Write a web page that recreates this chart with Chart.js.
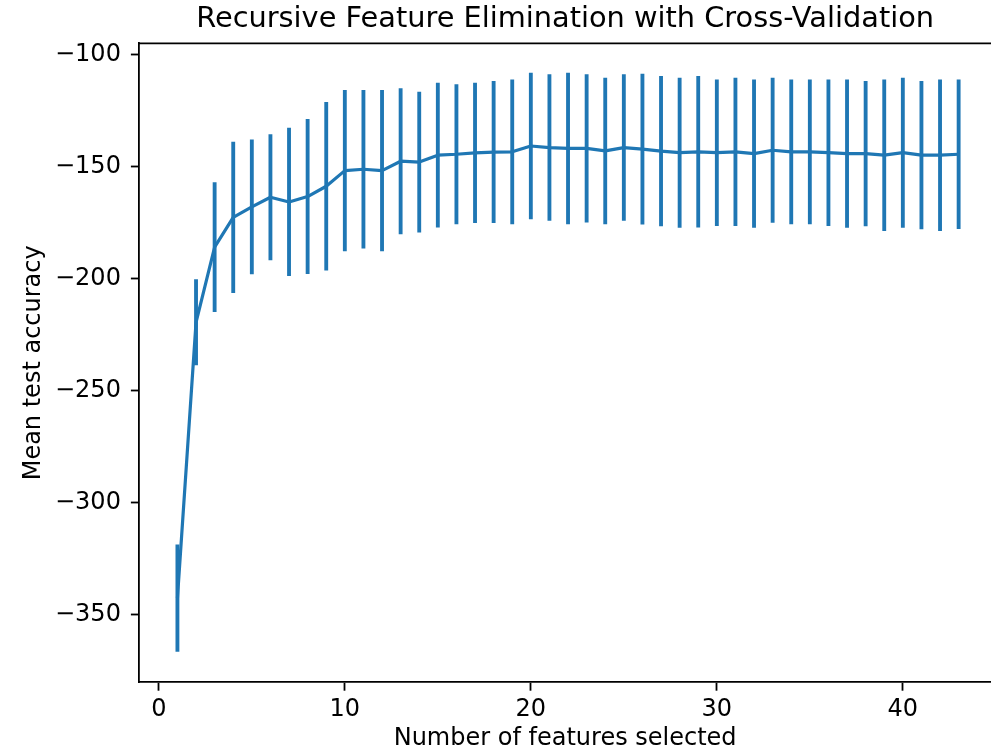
<!DOCTYPE html>
<html lang="en">
<head>
	<meta charset="UTF-8">
	<title>Recursive Feature Elimination with Cross-Validation</title>
	<style>
		body { margin: 0; background: #fff; }
		#wrap { width: 991px; height: 753px; }
	</style>
</head>
<body>
	<div id="wrap"><canvas id="chartRfe"></canvas></div>

	<script src="https://cdn.jsdelivr.net/npm/chart.js@4/dist/chart.umd.min.js"></script>
	<script>
		// number of features selected
		const nFeatures = [1, 2, 3, 4, 5, 6, 7, 8, 9, 10, 11, 12, 13, 14, 15, 16, 17, 18, 19, 20, 21, 22,
			23, 24, 25, 26, 27, 28, 29, 30, 31, 32, 33, 34, 35, 36, 37, 38, 39, 40, 41, 42, 43];

		// mean test score per feature count
		const meanScore = [-342.8, -219.5, -185.9, -172.6, -167.9, -163.6, -165.7, -163.3, -158.7, -151.7,
			-151.1, -151.7, -147.5, -147.9, -144.8, -144.4, -143.8, -143.4, -143.3, -140.7,
			-141.4, -141.8, -141.8, -142.9, -141.4, -142.1, -143.0, -143.7, -143.3, -143.7,
			-143.3, -144.1, -142.6, -143.3, -143.3, -143.7, -144.1, -144.1, -144.8, -143.7,
			-144.8, -144.8, -144.4];

		// std of test score (half error bar)
		const stdScore = [23.8, 19.1, 28.9, 33.7, 30.0, 28.0, 33.0, 34.5, 37.5, 35.9,
			35.3, 35.9, 32.5, 31.3, 32.2, 31.1, 31.2, 31.6, 32.2, 32.6,
			32.6, 33.7, 33.0, 32.6, 32.6, 33.5, 33.4, 33.4, 33.7, 32.6,
			33.0, 33.0, 32.3, 32.2, 32.2, 32.6, 33.0, 32.3, 33.7, 33.4,
			33.0, 33.7, 33.3];

		const xTicks = [0, 10, 20, 30, 40];
		const yTicks = [-100, -150, -200, -250, -300, -350];

		const blue = "#1f77b4";
		const fontFamily = "'DejaVu Sans', sans-serif";

		const fmt = v => String(v).replace("-", "\u2212");

		const topLine = {
			id: "topLine",
			afterDraw(chart) {
				const { ctx, chartArea } = chart;
				ctx.save();
				ctx.strokeStyle = "#000";
				ctx.lineWidth = 1.8;
				ctx.beginPath();
				ctx.moveTo(chartArea.left - 0.9, chartArea.top);
				ctx.lineTo(chartArea.right + 2, chartArea.top);
				ctx.stroke();
				ctx.restore();
			}
		};

		new Chart("chartRfe", {
			type: "line",
			data: {
				datasets: [
					{
						type: "bar",
						data: nFeatures.map((n, i) => ({ x: n, y: [meanScore[i] - stdScore[i], meanScore[i] + stdScore[i]] })),
						backgroundColor: blue,
						borderWidth: 0,
						barThickness: 3.2,
						grouped: false
					},
					{
						type: "line",
						data: nFeatures.map((n, i) => ({ x: n, y: meanScore[i] })),
						borderColor: blue,
						borderWidth: 3.2,
						borderJoinStyle: "round",
						pointRadius: 0,
						tension: 0,
						fill: false
					}
				]
			},
			options: {
				responsive: true,
				maintainAspectRatio: false,
				animation: false,
				layout: { padding: 0 },
				plugins: {
					legend: { display: false },
					tooltip: { enabled: false },
					title: {
						display: true,
						fullSize: false,
						text: "Recursive Feature Elimination with Cross-Validation",
						color: "#000",
						font: { family: fontFamily, size: 28.8, weight: "normal" },
						padding: { top: 2.5, bottom: 6.24 }
					}
				},
				scales: {
					x: {
						type: "linear",
						min: -1.05,
						max: 44.74,
						offset: false,
						afterBuildTicks: s => { s.ticks = xTicks.map(v => ({ value: v })); },
						afterFit: s => { s.height = 70.7; },
						grid: { display: true, offset: false, drawOnChartArea: false, drawTicks: true, tickLength: 8.4, tickWidth: 1.8, tickColor: "#000" },
						border: { display: true, color: "#000", width: 1.8 },
						ticks: { color: "#000", font: { family: fontFamily, size: 24 }, padding: 5, maxRotation: 0, callback: v => fmt(v) },
						title: { display: true, text: "Number of features selected", color: "#000", font: { family: fontFamily, size: 24 }, padding: { top: 0, bottom: 0 } }
					},
					y: {
						type: "linear",
						min: -380.4,
						max: -94.8,
						afterBuildTicks: s => { s.ticks = yTicks.map(v => ({ value: v })); },
						afterFit: s => { s.width = 139.3; },
						grid: { display: true, drawOnChartArea: false, drawTicks: true, tickLength: 8.4, tickWidth: 1.8, tickColor: "#000" },
						border: { display: true, color: "#000", width: 1.8 },
						ticks: { color: "#000", font: { family: fontFamily, size: 24 }, padding: 10, callback: v => fmt(v) },
						title: { display: true, text: "Mean test accuracy", color: "#000", font: { family: fontFamily, size: 24 }, padding: { top: 19, bottom: 0 } }
					}
				}
			},
			plugins: [topLine]
		});
	</script>
</body>
</html>
